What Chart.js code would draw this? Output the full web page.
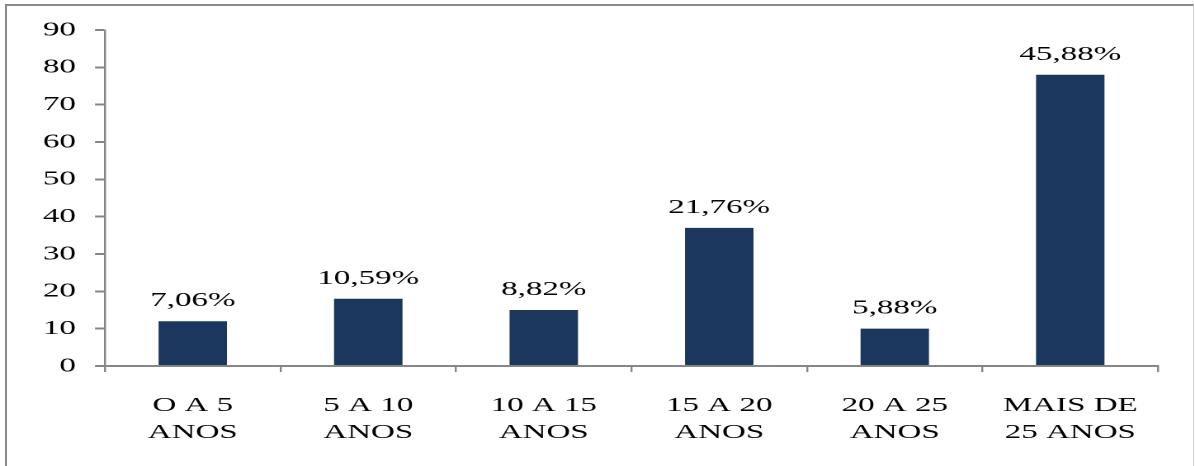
<!DOCTYPE html>
<html>
<head>
<meta charset="utf-8">
<script src="https://cdn.jsdelivr.net/npm/chart.js@4"></script>
<style>
  body { margin: 0; background: #fff; }
  #wrap { position: relative; width: 1195px; height: 466px; overflow: hidden; }
  #frame {
    position: absolute; left: 5px; top: 4px; width: 1186px; height: 480px;
    border-top: 2px solid #8a8a8a; border-left: 2px solid #8a8a8a; border-right: 1px solid #d4d4d4;
  }
  #chart { position: absolute; left: 0; top: 0; transform-origin: 0 0; }
</style>
</head>
<body>
<div id="wrap">
  <div id="frame"></div>
  <canvas id="chart" width="724" height="466"></canvas>
</div>
<script>
// dados do gráfico
const categories = [["O A 5", "ANOS"], ["5 A 10", "ANOS"], ["10 A 15", "ANOS"], ["15 A 20", "ANOS"], ["20 A 25", "ANOS"], ["MAIS DE", "25 ANOS"]];
const counts = [12, 18, 15, 37, 10, 78];
const percents = [7.06, 10.59, 8.82, 21.76, 5.88, 45.88];
const yTicks = [0, 10, 20, 30, 40, 50, 60, 70, 80, 90];

// the original picture is stretched sideways, so the canvas is too
const stretch = 1195 / 724;
const canvas = document.getElementById("chart");
canvas.style.transform = "scaleX(" + stretch + ")";

const serif = "'Liberation Serif', 'Times New Roman', serif";
const axisGray = "#868686";

const barLabels = {
  id: "barLabels",
  afterDatasetsDraw(chart) {
    const ctx = chart.ctx;
    const meta = chart.getDatasetMeta(0);
    ctx.save();
    ctx.font = "20px " + serif;
    ctx.fillStyle = "#000";
    ctx.textAlign = "center";
    ctx.textBaseline = "alphabetic";
    meta.data.forEach(function (bar, i) {
      const txt = percents[i].toFixed(2).replace(".", ",") + "%";
      ctx.fillText(txt, bar.x, bar.y - 15);
    });
    ctx.restore();
  },
};

new Chart(canvas, {
  type: "bar",
  data: {
    labels: categories,
    datasets: [
      {
        data: counts,
        backgroundColor: "#1b375e",
        borderWidth: 0,
        barPercentage: 0.39,
        categoryPercentage: 1,
      },
    ],
  },
  options: {
    responsive: false,
    animation: false,
    devicePixelRatio: 2,
    layout: { padding: { top: 30, right: 724 - 1158 / stretch, bottom: 0, left: 0 } },
    plugins: { legend: { display: false }, tooltip: { enabled: false } },
    scales: {
      x: {
        grid: { drawOnChartArea: false, drawTicks: true, tickLength: 6, color: axisGray, lineWidth: 2 / stretch, offset: true },
        border: { color: axisGray, width: 2 },
        ticks: { color: "#000", font: { family: serif, size: 20, lineHeight: 1.35 }, padding: 20, maxRotation: 0, autoSkip: false },
        afterFit(scale) { scale.height = 100; },
      },
      y: {
        min: 0,
        max: 90,
        afterBuildTicks(scale) { scale.ticks = yTicks.map(function (v) { return { value: v }; }); },
        grid: { drawOnChartArea: false, drawTicks: true, tickLength: 10 / stretch, color: axisGray, lineWidth: 2 },
        border: { color: axisGray, width: 2 / stretch },
        ticks: { color: "#000", font: { family: serif, size: 20 }, padding: 19 / stretch },
        afterFit(scale) { scale.width = 105 / stretch; },
      },
    },
  },
  plugins: [barLabels],
});
</script>
</body>
</html>
